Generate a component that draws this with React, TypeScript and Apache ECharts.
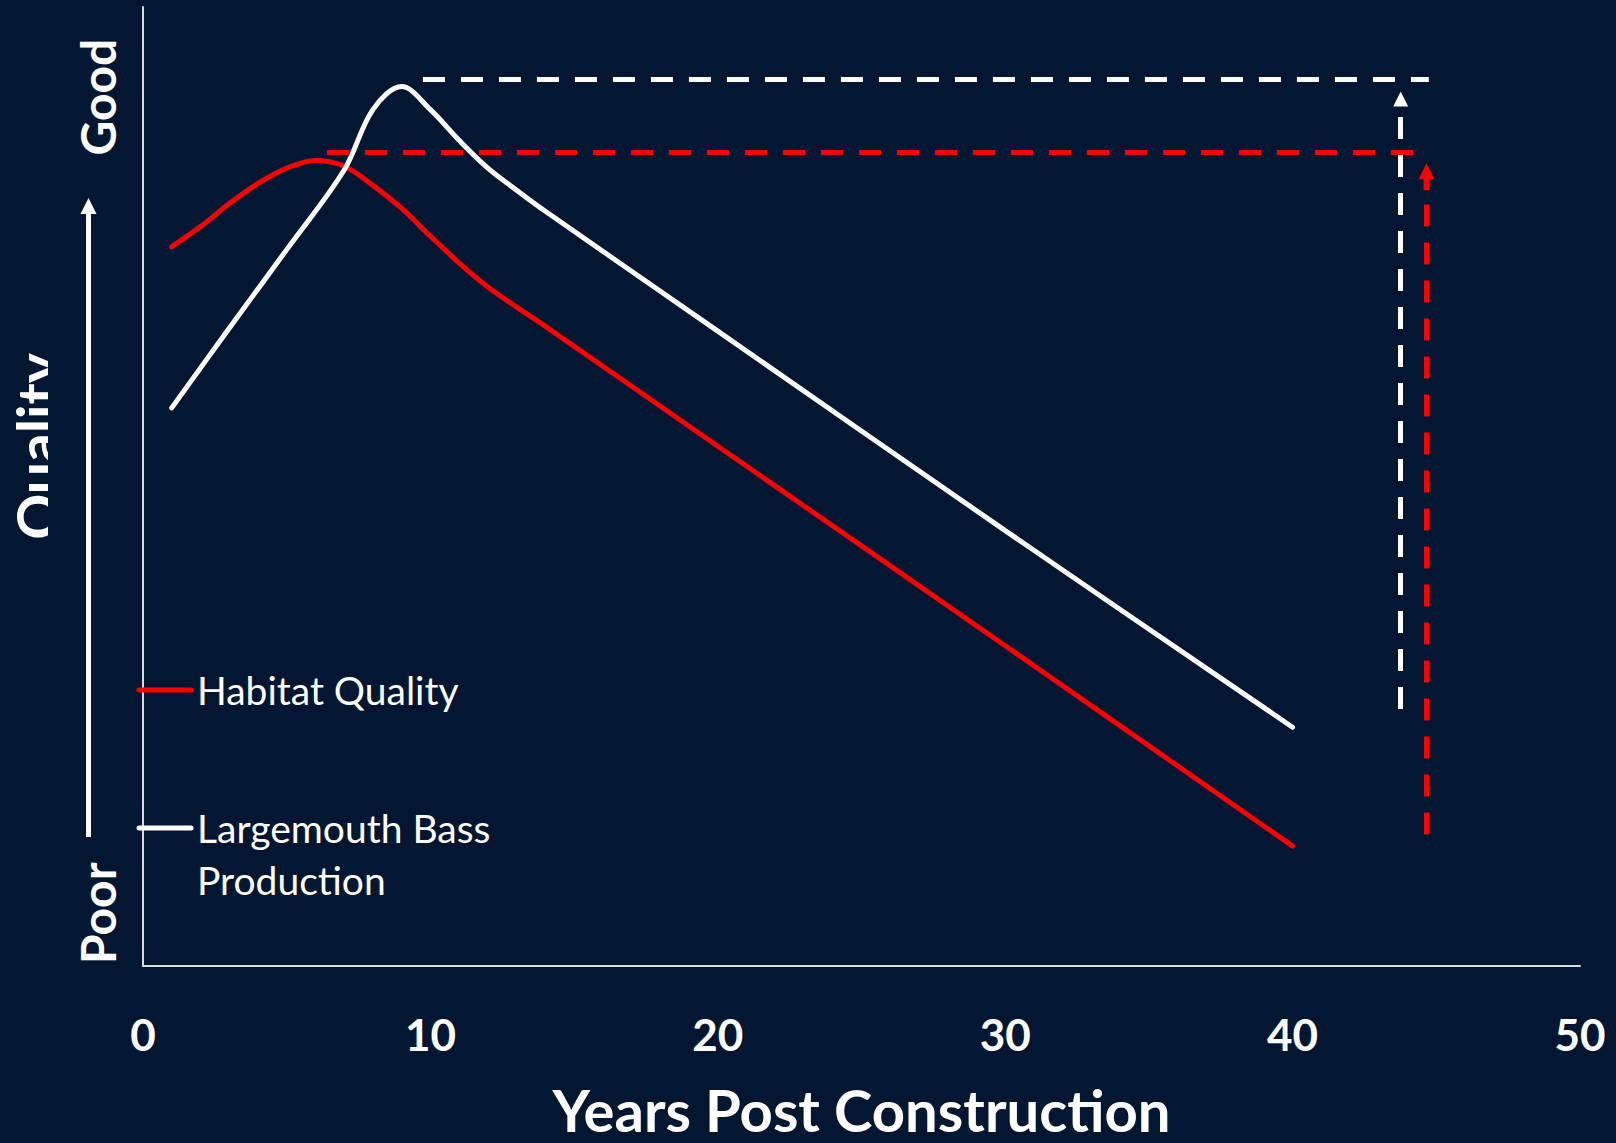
import React, { useEffect, useRef } from "react";
import * as echarts from "echarts";

// Habitat quality over time (arbitrary quality scale 0-100)
const habitatYears = [1, 2, 3, 4, 5, 6, 7, 8, 9, 10, 11, 12, 13, 14, 20, 30, 40];
const habitatQuality = [75.0, 77.1, 79.5, 81.6, 83.2, 84.0, 83.4, 81.4, 79.0, 76.1, 73.3, 70.8, 68.7, 66.7, 54.2, 33.4, 12.5];

// Largemouth bass production over time
const bassYears = [1, 3, 5, 7, 8, 9, 10, 11, 12, 13, 14, 20, 30, 40];
const bassProduction = [58.2, 66.5, 74.7, 83.0, 89.3, 91.7, 89.3, 86.1, 83.2, 80.9, 78.7, 66.2, 45.4, 24.9];

// Dashed guides: peak level carried right, arrow from final level back up to it
const bassGuideX = [9.74, 44.74];
const bassGuideY = 92.5;
const bassArrowX = 43.76;
const bassArrowY = [26.8, 90.4];
const habitatGuideX = [6.4, 44.2];
const habitatGuideY = 84.9;
const habitatArrowX = 44.66;
const habitatArrowY = [13.7, 82.3];

// Axis texts
const xTicks = [0, 10, 20, 30, 40, 50];
const qualityLabelValues = [5.5, 90.6];
const qualityLabelTexts = ["Poor", "Good"];

const BG = "#031733";
const RED = "#ff0000";
const WHITE = "#ffffff";
const FONT = "Lato";

const pair = (xs: number[], ys: number[]) => xs.map((x, i) => [x, ys[i]]);

export default function App() {
  const ref = useRef<HTMLDivElement>(null);

  useEffect(() => {
    if (!ref.current) return;
    const chart = echarts.init(ref.current, null, { renderer: "svg" });

    const guide = (color: string) => ({
      color,
      width: 5,
      type: [22, 16],
      cap: "butt",
    });

    const keyText = (text: string, y: number) => ({
      type: "text",
      z: 100,
      x: 197,
      y,
      style: { text, fill: WHITE, font: `39px ${FONT}`, verticalAlign: "middle" },
    });

    chart.setOption({
      animation: false,
      backgroundColor: BG,
      grid: { left: 139, right: 36, top: 7, bottom: 175 },
      xAxis: {
        type: "value",
        min: xTicks[0],
        max: xTicks[xTicks.length - 1],
        interval: 10,
        axisLine: { show: true, onZero: false, lineStyle: { color: "#d9d9d9", width: 2 } },
        axisTick: { show: false },
        splitLine: { show: false },
        axisLabel: {
          color: WHITE,
          fontFamily: FONT,
          fontWeight: "bold",
          fontSize: 44,
          margin: 46,
        },
        name: "Years Post Construction",
        nameLocation: "middle",
        nameGap: 114,
        nameTextStyle: { color: WHITE, fontFamily: FONT, fontWeight: "bold", fontSize: 58 },
      },
      yAxis: {
        type: "value",
        min: 0,
        max: 100,
        axisLine: { show: true, lineStyle: { color: "#d9d9d9", width: 2 } },
        axisTick: { show: false },
        splitLine: { show: false },
        axisLabel: {
          show: true,
          customValues: qualityLabelValues,
          rotate: 90,
          margin: 22,
          color: WHITE,
          fontFamily: FONT,
          fontWeight: "bold",
          fontSize: 48,
          formatter: (v: number) => {
            const i = qualityLabelValues.indexOf(v);
            return i >= 0 ? qualityLabelTexts[i] : "";
          },
        },
        name: "Quality",
        nameLocation: "middle",
        nameRotate: 90,
        nameGap: 78,
        nameTextStyle: {
          color: WHITE,
          fontFamily: FONT,
          fontWeight: "bold",
          fontSize: 57,
          padding: [0, 0, 0, 80],
        },
      },
      series: [
        {
          name: "Habitat Quality",
          type: "line",
          data: pair(habitatYears, habitatQuality),
          smooth: 0.35,
          showSymbol: false,
          lineStyle: { color: RED, width: 5, cap: "round" },
          z: 3,
          markLine: {
            silent: true,
            animation: false,
            label: { show: false },
            lineStyle: guide(RED),
            data: [
              [
                { coord: [habitatGuideX[0], habitatGuideY], symbol: "none" },
                { coord: [habitatGuideX[1], habitatGuideY], symbol: "none" },
              ],
              [
                { coord: [habitatArrowX, habitatArrowY[0]], symbol: "none" },
                {
                  coord: [habitatArrowX, habitatArrowY[1]],
                  symbol: "path://M8,0 L16,16 L11,16 L11,27 L5,27 L5,16 L0,16 Z",
                  symbolSize: [16, 27],
                },
              ],
            ],
          },
        },
        {
          name: "Largemouth Bass Production",
          type: "line",
          data: pair(bassYears, bassProduction),
          smooth: 0.35,
          showSymbol: false,
          lineStyle: { color: WHITE, width: 5, cap: "round" },
          z: 4,
          markLine: {
            silent: true,
            animation: false,
            label: { show: false },
            lineStyle: guide(WHITE),
            data: [
              [
                { coord: [bassGuideX[0], bassGuideY], symbol: "none" },
                { coord: [bassGuideX[1], bassGuideY], symbol: "none" },
              ],
              [
                { coord: [bassArrowX, bassArrowY[0]], symbol: "none" },
                { coord: [bassArrowX, bassArrowY[1]], symbol: "triangle", symbolSize: [15, 15] },
              ],
            ],
          },
        },
      ],
      graphic: [
        // hides the descenders of the rotated axis name
        { type: "rect", left: 48, top: 320, z: 100, shape: { width: 24, height: 260 }, style: { fill: BG } },
        // Poor -> Good arrow
        {
          type: "line",
          z: 100,
          shape: { x1: 88.5, y1: 837, x2: 88.5, y2: 212 },
          style: { stroke: WHITE, lineWidth: 5 },
        },
        {
          type: "polygon",
          z: 100,
          shape: { points: [[80.5, 214], [96.5, 214], [88.5, 198]] },
          style: { fill: WHITE },
        },
        // key
        {
          type: "line",
          z: 100,
          shape: { x1: 139, y1: 690, x2: 191, y2: 690 },
          style: { stroke: RED, lineWidth: 5, lineCap: "round" },
        },
        keyText("Habitat Quality", 690),
        {
          type: "line",
          z: 100,
          shape: { x1: 139, y1: 828, x2: 191, y2: 828 },
          style: { stroke: WHITE, lineWidth: 5, lineCap: "round" },
        },
        keyText("Largemouth Bass", 828),
        keyText("Production", 880),
      ],
    });

    return () => chart.dispose();
  }, []);

  return (
    <div
      ref={ref}
      style={{ position: "fixed", left: 0, top: 0, width: 1616, height: 1143, background: BG }}
    />
  );
}
